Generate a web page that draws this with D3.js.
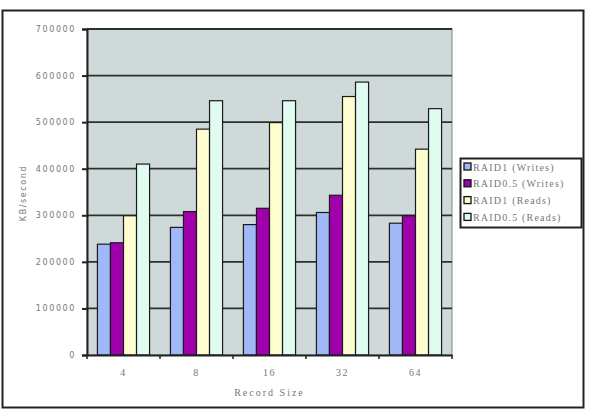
<!DOCTYPE html>
<html>
<head>
<meta charset="utf-8">
<script src="https://cdn.jsdelivr.net/npm/d3@7"></script>
<style>
  body { margin: 0; background: #fff; }
</style>
</head>
<body>
<script>
// data
const recordSizes = ["4", "8", "16", "32", "64"];
const seriesNames = ["RAID1 (Writes)", "RAID0.5 (Writes)", "RAID1 (Reads)", "RAID0.5 (Reads)"];
const raid1Writes = [238000, 274000, 280000, 306000, 283000];
const raid05Writes = [241000, 308000, 315000, 343000, 299000];
const raid1Reads = [299000, 485000, 499000, 555000, 442000];
const raid05Reads = [410000, 546000, 546000, 586000, 529000];
const yTicks = [0, 100000, 200000, 300000, 400000, 500000, 600000, 700000];
const colors = ["#a0b8f8", "#a000ac", "#fdfdd0", "#e0fcf0"];

const allSeries = [raid1Writes, raid05Writes, raid1Reads, raid05Reads];

const width = 591, height = 410;
const plot = { left: 87, top: 29, right: 452, bottom: 355 };

const svg = d3.select("body").append("svg")
  .attr("width", width)
  .attr("height", height);

// outer frame
svg.append("rect")
  .attr("x", 2.5).attr("y", 10.5)
  .attr("width", 581).attr("height", 397)
  .attr("fill", "#fff")
  .attr("stroke", "#222").attr("stroke-width", 2);

const x = d3.scaleBand()
  .domain(recordSizes)
  .range([plot.left, plot.right]);

const xInner = d3.scaleBand()
  .domain(d3.range(seriesNames.length))
  .range([0, x.bandwidth()])
  .paddingOuter(0.8);

const y = d3.scaleLinear()
  .domain([0, 700000])
  .range([plot.bottom, plot.top]);

// plot background
svg.append("rect")
  .attr("x", plot.left).attr("y", plot.top)
  .attr("width", plot.right - plot.left)
  .attr("height", plot.bottom - plot.top)
  .attr("fill", "#d0d9d9")
  .attr("stroke", "#7a8585").attr("stroke-width", 1);

// gridlines
svg.append("g")
  .selectAll("line")
  .data(yTicks.filter(d => d > 0))
  .enter().append("line")
  .attr("x1", plot.left).attr("x2", plot.right)
  .attr("y1", d => y(d)).attr("y2", d => y(d))
  .attr("stroke", "#2a3030").attr("stroke-width", 1.8);

// bars
const groups = svg.append("g")
  .selectAll("g")
  .data(recordSizes)
  .enter().append("g")
  .attr("transform", d => `translate(${x(d)},0)`);

groups.selectAll("rect")
  .data((d, i) => allSeries.map((s, k) => ({ k: k, v: s[i] })))
  .enter().append("rect")
  .attr("x", d => xInner(d.k))
  .attr("width", xInner.bandwidth())
  .attr("y", d => y(d.v))
  .attr("height", d => y(0) - y(d.v))
  .attr("fill", d => colors[d.k])
  .attr("stroke", "#1a1a1a").attr("stroke-width", 1.2);

// y axis
const yAxis = svg.append("g")
  .attr("transform", `translate(${plot.left},0)`)
  .call(d3.axisLeft(y).tickValues(yTicks).tickFormat(d3.format("d")).tickSize(5).tickPadding(6));
yAxis.select(".domain").attr("stroke", "#222").attr("stroke-width", 2);
yAxis.selectAll(".tick line").attr("stroke", "#222").attr("stroke-width", 2);
yAxis.selectAll("text")
  .attr("font-family", "DejaVu Sans, sans-serif")
  .attr("font-size", 8)
  .attr("letter-spacing", 1.6)
  .attr("fill", "#777");

// x axis
const xAxis = svg.append("g")
  .attr("transform", `translate(0,${plot.bottom})`)
  .call(d3.axisBottom(x).tickSize(0).tickPadding(14));
xAxis.select(".domain").attr("stroke", "#222").attr("stroke-width", 2);
xAxis.selectAll("text")
  .attr("font-family", "Liberation Serif, serif")
  .attr("font-size", 10)
  .attr("letter-spacing", 1.5)
  .attr("fill", "#777");

// tick marks between categories
svg.append("g")
  .selectAll("line")
  .data(recordSizes.concat(["end"]))
  .enter().append("line")
  .attr("x1", (d, i) => i < recordSizes.length ? x(d) : plot.right)
  .attr("x2", (d, i) => i < recordSizes.length ? x(d) : plot.right)
  .attr("y1", plot.bottom).attr("y2", plot.bottom + 4)
  .attr("stroke", "#222").attr("stroke-width", 1.5);

// axis titles
svg.append("text")
  .attr("x", (plot.left + plot.right) / 2)
  .attr("y", 396)
  .attr("text-anchor", "middle")
  .attr("font-family", "Liberation Serif, serif")
  .attr("font-size", 10)
  .attr("letter-spacing", 2)
  .attr("fill", "#777")
  .text("Record Size");

svg.append("text")
  .attr("transform", "translate(26,193) rotate(-90)")
  .attr("text-anchor", "middle")
  .attr("font-family", "DejaVu Sans, sans-serif")
  .attr("font-size", 8)
  .attr("letter-spacing", 1.6)
  .attr("fill", "#777")
  .text("KB/second");

// legend
const legend = svg.append("g");
legend.append("rect")
  .attr("x", 460.5).attr("y", 158.5)
  .attr("width", 121).attr("height", 69)
  .attr("fill", "#fff")
  .attr("stroke", "#222").attr("stroke-width", 2);

const items = legend.selectAll("g.item")
  .data(seriesNames)
  .enter().append("g")
  .attr("class", "item")
  .attr("transform", (d, i) => `translate(464,${163 + i * 16.8})`);

items.append("rect")
  .attr("width", 7).attr("height", 7)
  .attr("fill", (d, i) => colors[i])
  .attr("stroke", "#111").attr("stroke-width", 1.3);

items.append("text")
  .attr("x", 9).attr("y", 7.5)
  .attr("font-family", "Liberation Serif, serif")
  .attr("font-size", 10)
  .attr("letter-spacing", 1.2)
  .attr("fill", "#777")
  .text(d => d);
</script>
</body>
</html>
